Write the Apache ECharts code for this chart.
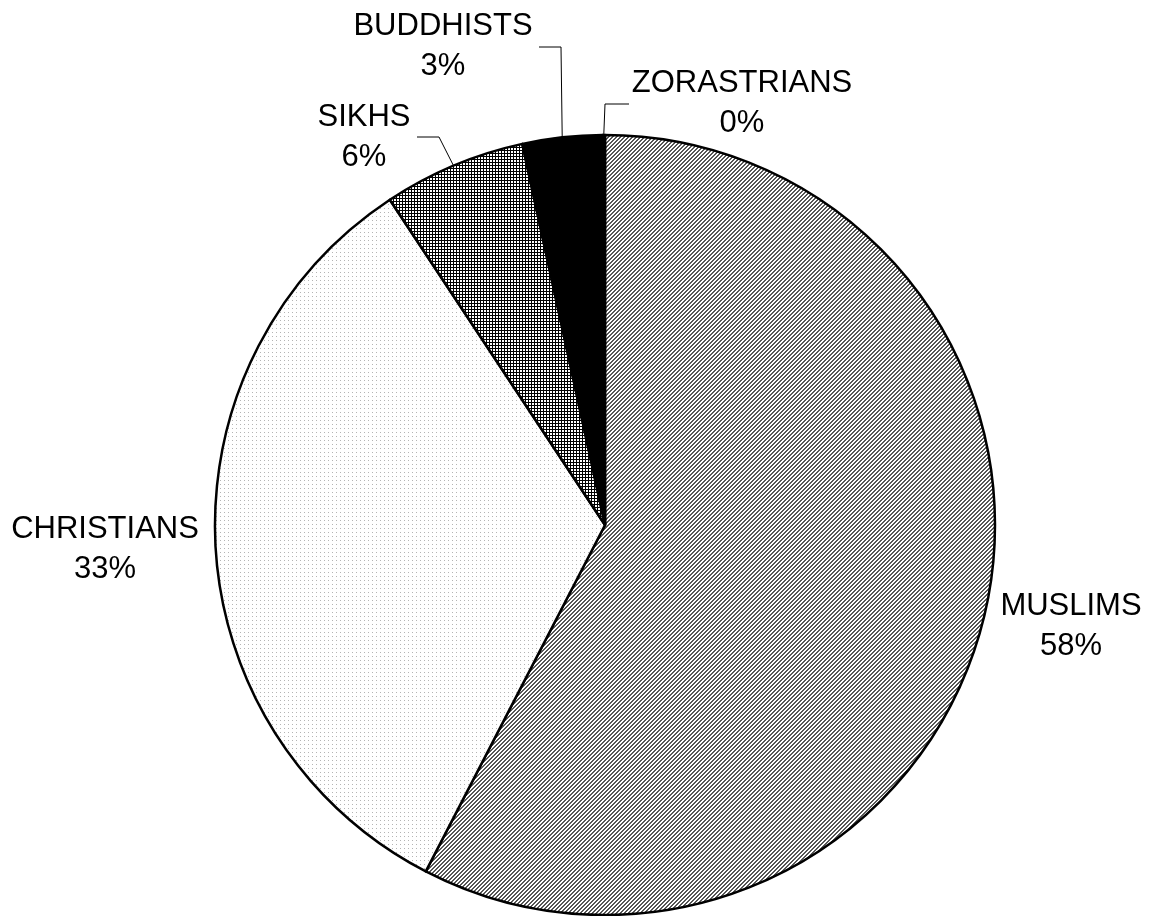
<!DOCTYPE html>
<html>
<head>
<meta charset="utf-8">
<script src="https://cdn.jsdelivr.net/npm/echarts@6/dist/echarts.min.js"></script>
<style>
  html, body { margin: 0; padding: 0; background: #fff; }
  #chart { width: 1154px; height: 916px; }
</style>
</head>
<body>
<div id="chart"></div>
<script>
// Religious composition (share of population, %)
const categories = ['MUSLIMS', 'CHRISTIANS', 'SIKHS', 'BUDDHISTS', 'ZORASTRIANS'];
const shares = [57.6, 33.1, 5.9, 3.3, 0.1];

// Label placement (block centre) and leader-line elbow for each slice
const labelSpots = [
  { x: 1071, y: 626, line: false },
  { x: 105,  y: 549, line: false },
  { x: 364,  y: 137, line: true, elbow: [439, 137], end: [417, 137] },
  { x: 443,  y: 46,  line: true, elbow: [561, 47],  end: [539, 47] },
  { x: 742,  y: 103, line: true, elbow: [605, 104], end: [629, 104] }
];

// Small bitmap tiles used as monochrome fill patterns
function makeTile(size, painter) {
  const c = document.createElement('canvas');
  c.width = size; c.height = size;
  const ctx = c.getContext('2d');
  ctx.fillStyle = '#fff';
  ctx.fillRect(0, 0, size, size);
  for (let y = 0; y < size; y++) {
    for (let x = 0; x < size; x++) {
      const col = painter(x, y);
      if (col) { ctx.fillStyle = col; ctx.fillRect(x, y, 1, 1); }
    }
  }
  return { image: c, repeat: 'repeat' };
}

const fills = [
  // fine diagonal hatch
  makeTile(4, (x, y) => ((x + y) % 4 < 2 ? '#555' : null)),
  // sparse light dots
  makeTile(4, (x, y) => (x === 0 && y === 0 ? '#b4b4b4' : null)),
  // dense grid
  makeTile(3, (x, y) => (x === 0 || y === 0 ? '#000' : null)),
  // solid black
  '#000',
  '#fff'
];

const data = categories.map((name, i) => ({
  name,
  value: shares[i],
  itemStyle: { color: fills[i] },
  labelLine: { show: labelSpots[i].line }
}));

const chart = echarts.init(document.getElementById('chart'), null, { renderer: 'canvas' });
chart.setOption({
  backgroundColor: '#fff',
  animation: false,
  series: [{
    type: 'pie',
    center: [605, 525],
    radius: 390,
    startAngle: 90,
    clockwise: true,
    avoidLabelOverlap: false,
    percentPrecision: 0,
    data,
    itemStyle: { borderColor: '#000', borderWidth: 2.5 },
    emphasis: { disabled: true },
    label: {
      show: true,
      position: 'outside',
      formatter: '{b}\n{d}%',
      color: '#000',
      fontFamily: '"Liberation Sans", Arial, sans-serif',
      fontSize: 31,
      lineHeight: 40,
      align: 'center'
    },
    labelLine: {
      lineStyle: { color: '#000', width: 1 }
    },
    labelLayout: function (params) {
      const s = labelSpots[params.dataIndex];
      const out = { x: s.x, y: s.y, align: 'center', verticalAlign: 'middle' };
      if (s.line && params.labelLinePoints) {
        out.labelLinePoints = [params.labelLinePoints[0], s.elbow, s.end];
      }
      return out;
    }
  }]
});
</script>
</body>
</html>
